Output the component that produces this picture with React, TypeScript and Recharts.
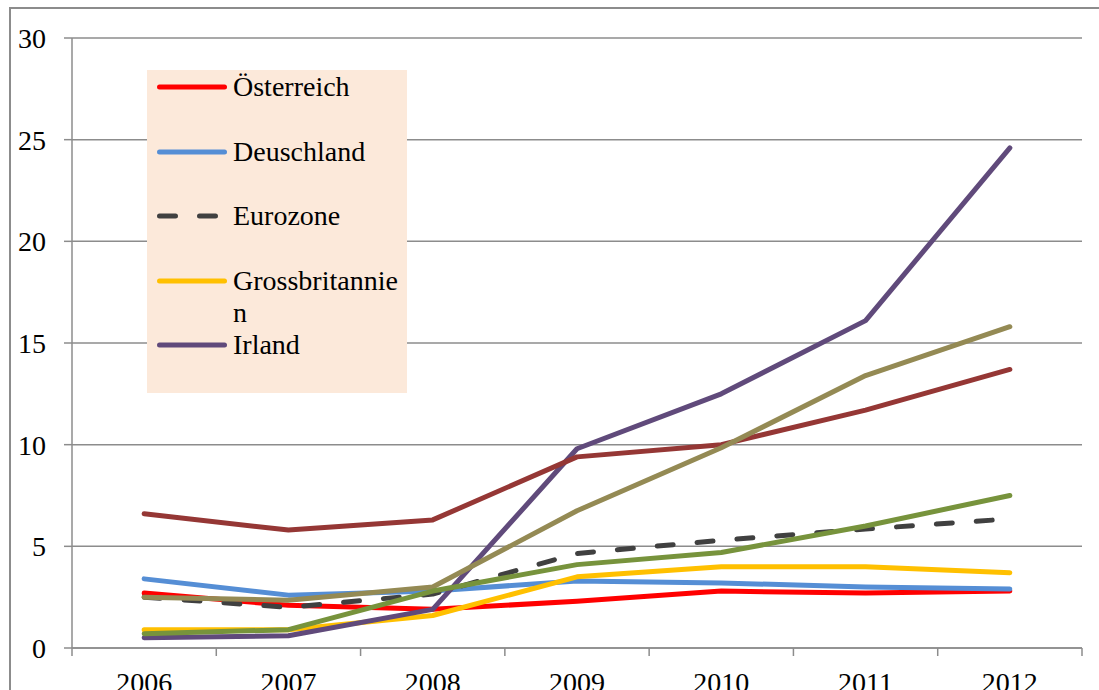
import { LineChart, Line, XAxis, YAxis, CartesianGrid, Legend } from "recharts"

const FONT = '"Liberation Serif", "Times New Roman", serif'
const GREY = "#8c8c8c"

const years = ["2006", "2007", "2008", "2009", "2010", "2011", "2012"]
const yTicks = [0, 5, 10, 15, 20, 25, 30]

const oesterreich = [2.7, 2.1, 1.9, 2.3, 2.8, 2.7, 2.8]
const deuschland = [3.4, 2.6, 2.8, 3.3, 3.2, 3.0, 2.9]
const eurozone = [2.5, 2.0, 2.65, 4.65, 5.3, 5.85, 6.35]
const grossbritannien = [0.9, 0.9, 1.6, 3.5, 4.0, 4.0, 3.7]
const irland = [0.5, 0.6, 1.9, 9.8, 12.5, 16.1, 24.6]
const spanien = [6.6, 5.8, 6.3, 9.4, 10.0, 11.7, 13.7]
const griechenland = [2.5, 2.35, 3.0, 6.75, 9.85, 13.4, 15.8]
const portugal = [0.7, 0.9, 2.8, 4.1, 4.7, 6.0, 7.5]

const data = years.map((year, i) => ({
  year,
  oesterreich: oesterreich[i],
  deuschland: deuschland[i],
  eurozone: eurozone[i],
  grossbritannien: grossbritannien[i],
  irland: irland[i],
  spanien: spanien[i],
  griechenland: griechenland[i],
  portugal: portugal[i],
}))

const series = [
  { key: "oesterreich", name: "Österreich", color: "#ff0000" },
  { key: "deuschland", name: "Deuschland", color: "#558ed5" },
  { key: "eurozone", name: "Eurozone", color: "#404040", dash: "16 24" },
  { key: "grossbritannien", name: "Grossbritannien", color: "#ffc000" },
  { key: "irland", name: "Irland", color: "#604a7b" },
  { key: "spanien", name: "Spanien", color: "#953735" },
  { key: "griechenland", name: "Griechenland", color: "#948a54" },
  { key: "portugal", name: "Portugal", color: "#77933c" },
]

// only the first five entries fit into the legend box
const LEGEND_ROWS = 5

const TICK_SIZE = 8
const TICK_MARGIN = 16

function YearTick(props: any) {
  const { x, y, payload, index, visibleTicksCount, width } = props
  const half = payload?.offset || width / visibleTicksCount / 2
  const axisY = y - TICK_SIZE - TICK_MARGIN
  return (
    <g>
      <line x1={x - half} x2={x - half} y1={axisY} y2={axisY + TICK_SIZE} stroke={GREY} strokeWidth={1.5} />
      {index === visibleTicksCount - 1 && (
        <line x1={x + half} x2={x + half} y1={axisY} y2={axisY + TICK_SIZE} stroke={GREY} strokeWidth={1.5} />
      )}
      <text x={x} y={y} dy="0.71em" textAnchor="middle" fontSize={28} fontFamily={FONT} fill="#000">
        {payload.value}
      </text>
    </g>
  )
}

function LegendBox({ payload }: any) {
  const order = series.map((s) => s.name)
  const items = [...(payload ?? [])]
    .sort((a: any, b: any) => order.indexOf(a.value) - order.indexOf(b.value))
    .slice(0, LEGEND_ROWS)
  return (
    <div
      style={{
        width: 260,
        height: 323,
        background: "#fce9da",
        overflow: "hidden",
        paddingTop: 1,
        boxSizing: "border-box",
      }}
    >
      {items.map((item: any) => (
        <div key={item.value} style={{ height: 64.5, display: "flex", alignItems: "flex-start" }}>
          <svg width={76} height={32} style={{ flex: "none", marginLeft: 7 }}>
            <line
              x1={5.5}
              x2={70.5}
              y1={16}
              y2={16}
              stroke={item.color}
              strokeWidth={5}
              strokeLinecap="round"
              strokeDasharray={item.payload?.strokeDasharray}
            />
          </svg>
          <div
            style={{
              width: 171,
              paddingLeft: 3,
              lineHeight: "32px",
              fontSize: 28,
              fontFamily: FONT,
              wordBreak: "break-all",
              color: "#000",
            }}
          >
            {item.value}
          </div>
        </div>
      ))}
    </div>
  )
}

export default function App() {
  return (
    <div
      style={{
        position: "absolute",
        left: 0,
        top: 0,
        width: 1099,
        height: 690,
        background: "#fff",
        overflow: "hidden",
      }}
    >
      <div
        style={{
          position: "absolute",
          left: 9,
          top: 7,
          width: 1200,
          height: 800,
          border: `2px solid ${GREY}`,
        }}
      />
      <LineChart width={1099} height={690} data={data} margin={{ top: 38, right: 17, bottom: 0, left: 0 }}>
        <CartesianGrid vertical={false} stroke={GREY} strokeWidth={1.5} />
        <XAxis
          dataKey="year"
          scale="band"
          height={42}
          tickLine={false}
          tickSize={TICK_SIZE}
          tickMargin={TICK_MARGIN}
          axisLine={{ stroke: GREY, strokeWidth: 1.5 }}
          tick={<YearTick />}
          interval={0}
        />
        <YAxis
          width={72}
          domain={[0, 30]}
          ticks={yTicks}
          interval={0}
          tickSize={8}
          tickMargin={18}
          axisLine={{ stroke: GREY, strokeWidth: 1.5 }}
          tickLine={{ stroke: GREY, strokeWidth: 1.5 }}
          tick={{ fill: "#000", fontSize: 28, fontFamily: FONT }}
        />
        <Legend
          layout="vertical"
          align="center"
          verticalAlign="middle"
          content={<LegendBox />}
          wrapperStyle={{ left: 147, top: 70, width: 260, height: 323 }}
        />
        {series.map((s) => (
          <Line
            key={s.key}
            dataKey={s.key}
            name={s.name}
            stroke={s.color}
            strokeWidth={5}
            strokeDasharray={s.dash}
            strokeLinecap="round"
            strokeLinejoin="round"
            dot={false}
            activeDot={false}
            isAnimationActive={false}
          />
        ))}
      </LineChart>
    </div>
  )
}
